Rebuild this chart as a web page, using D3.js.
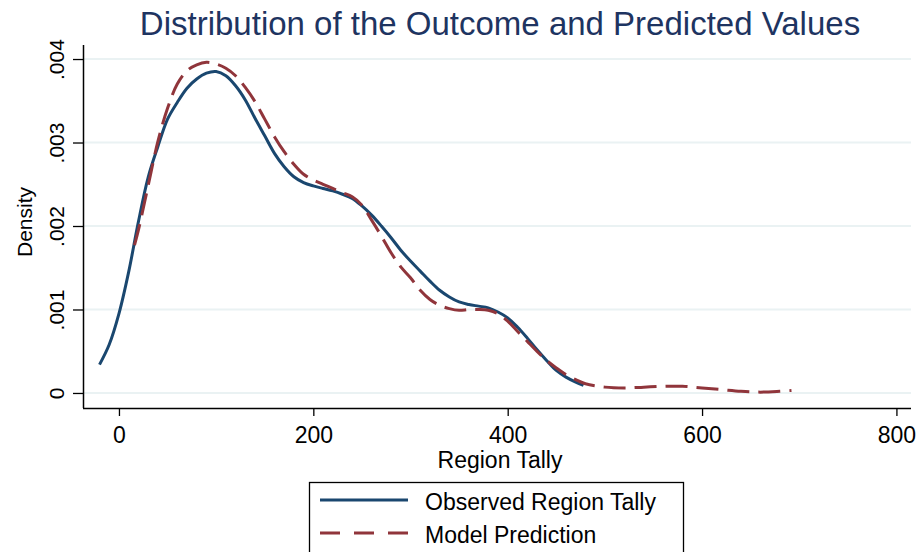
<!DOCTYPE html>
<html>
<head>
<meta charset="utf-8">
<script src="https://cdn.jsdelivr.net/npm/d3@7"></script>
<style>
  body { margin: 0; background: #fff; }
  text { font-family: "Liberation Sans", Arial, sans-serif; }
</style>
</head>
<body>
<div id="chart"></div>
<script>
// observed kernel density (Region Tally)
var obsX = [-20, -10, 0, 10, 20, 30, 40, 50, 60, 70, 80, 90, 100, 110, 120, 130, 140, 150, 160, 170,
  180, 190, 200, 210, 220, 230, 240, 250, 260, 270, 280, 290, 300, 310, 320, 330, 340, 350, 360, 370,
  380, 390, 400, 410, 420, 430, 440, 450, 460, 470, 478];
var obsY = [0.00034, 0.00058, 0.00095, 0.00145, 0.00205, 0.00258, 0.00295, 0.00328, 0.00348, 0.00365,
  0.00376, 0.00383, 0.00385, 0.0038, 0.00368, 0.00351, 0.00329, 0.00308, 0.00287, 0.00271,
  0.00259, 0.00252, 0.00248, 0.00245, 0.00242, 0.00238, 0.00233, 0.00224, 0.00213, 0.002,
  0.00186, 0.00171, 0.00158, 0.00146, 0.00134, 0.00123, 0.00115, 0.00109, 0.00106, 0.00104,
  0.00102, 0.00097, 0.0009, 0.00079, 0.00066, 0.00052, 0.00039, 0.00027, 0.00019, 0.00013, 0.00009];

// model prediction density
var predX = [16, 20, 30, 40, 50, 60, 70, 80, 90, 100, 110, 120, 130, 140, 150, 160, 170, 180, 190, 200,
  210, 220, 230, 240, 250, 260, 270, 280, 290, 300, 310, 320, 330, 340, 350, 360, 370, 380, 390, 400,
  410, 420, 430, 440, 450, 460, 470, 480, 500, 520, 540, 560, 580, 600, 620, 640, 660, 680, 692];
var predY = [0.00177, 0.00195, 0.00248, 0.00301, 0.00341, 0.0037, 0.00386, 0.00393, 0.00396, 0.00394,
  0.00389, 0.0038, 0.00366, 0.00349, 0.00328, 0.00307, 0.00289, 0.00274, 0.00262, 0.00255,
  0.0025, 0.00245, 0.0024, 0.00235, 0.00225, 0.00207, 0.00188, 0.00168, 0.00151, 0.00138,
  0.00123, 0.00112, 0.00105, 0.00101, 0.00099, 0.001, 0.001, 0.00099, 0.00095, 0.00086,
  0.00074, 0.00062, 0.0005, 0.00039, 0.0003, 0.00022, 0.00016, 0.00011, 0.00007, 0.00006,
  0.00007, 0.00008, 0.00008, 0.00006, 0.00004, 0.00002, 0.00001, 0.00002, 0.00003];

var xTicks = [0, 200, 400, 600, 800];
var yTicks = [0, 0.001, 0.002, 0.003, 0.004];
var yTickLabels = ["0", ".001", ".002", ".003", ".004"];
var seriesNames = ["Observed Region Tally", "Model Prediction"];

var W = 918, H = 552;
var plotL = 83, plotR = 911, plotT = 45, plotB = 408;

var svg = d3.select("#chart").append("svg")
  .attr("width", W)
  .attr("height", H);

var x = d3.scaleLinear().domain([-37, 815]).range([plotL, plotR]);
var y = d3.scaleLinear().domain([-0.00018, 0.004168]).range([plotB, plotT]);

// gridlines
svg.append("g").selectAll("line")
  .data(yTicks)
  .enter().append("line")
  .attr("x1", plotL).attr("x2", plotR)
  .attr("y1", function(d) { return y(d); })
  .attr("y2", function(d) { return y(d); })
  .style("stroke", "#eaf2f3")
  .style("stroke-width", 2);

// y axis
var yAxis = svg.append("g")
  .attr("transform", "translate(" + plotL + ",0)")
  .call(d3.axisLeft(y).tickValues(yTicks).tickSize(10).tickSizeOuter(0)
    .tickFormat(function(d, i) { return yTickLabels[i]; }));
yAxis.select(".domain").attr("d", "M0.5," + plotT + "V" + plotB).style("stroke", "#000").style("stroke-width", 1.5);
yAxis.selectAll(".tick line").style("stroke-width", 1.3);
yAxis.selectAll(".tick text")
  .attr("x", 0).attr("dy", null)
  .attr("transform", "translate(-19,0) rotate(-90)")
  .attr("text-anchor", "middle")
  .style("font-size", "21px")
  .style("fill", "#000");

// x axis
var xAxis = svg.append("g")
  .attr("transform", "translate(0," + plotB + ")")
  .call(d3.axisBottom(x).tickValues(xTicks).tickSize(8).tickSizeOuter(0).tickFormat(d3.format("d")));
xAxis.select(".domain").attr("d", "M" + plotL + ",0.5H" + plotR).style("stroke", "#000").style("stroke-width", 1.5);
xAxis.selectAll(".tick line").style("stroke-width", 1.3);
xAxis.selectAll(".tick text")
  .attr("y", 35).attr("dy", null)
  .style("font-size", "23px")
  .style("fill", "#000");

// curves
var line = d3.line()
  .x(function(d) { return x(d[0]); })
  .y(function(d) { return y(d[1]); })
  .curve(d3.curveCatmullRom);

svg.append("path")
  .datum(obsX.map(function(v, i) { return [v, obsY[i]]; }))
  .attr("d", line)
  .style("fill", "none")
  .style("stroke", "#1a476f")
  .style("stroke-width", 3);

svg.append("path")
  .datum(predX.map(function(v, i) { return [v, predY[i]]; }))
  .attr("d", line)
  .style("fill", "none")
  .style("stroke", "#90353b")
  .style("stroke-width", 3)
  .style("stroke-dasharray", "22,9");

// titles
svg.append("text")
  .text("Distribution of the Outcome and Predicted Values")
  .attr("x", 500).attr("y", 35)
  .attr("text-anchor", "middle")
  .style("font-size", "33px")
  .style("fill", "#1e3461");

svg.append("text")
  .text("Region Tally")
  .attr("x", 500).attr("y", 468)
  .attr("text-anchor", "middle")
  .style("font-size", "23px");

svg.append("text")
  .text("Density")
  .attr("transform", "translate(32,222) rotate(-90)")
  .attr("text-anchor", "middle")
  .style("font-size", "21px");

// legend
var lg = svg.append("g");
lg.append("rect")
  .attr("x", 309.5).attr("y", 482.5)
  .attr("width", 374).attr("height", 90)
  .style("fill", "#fff")
  .style("stroke", "#000")
  .style("stroke-width", 1.3);

var items = lg.selectAll(".item")
  .data(seriesNames)
  .enter().append("g")
  .attr("class", "item")
  .attr("transform", function(d, i) { return "translate(0," + (500 + i * 33) + ")"; });

items.append("line")
  .attr("x1", 320).attr("x2", 408)
  .style("stroke", function(d, i) { return i == 0 ? "#1a476f" : "#90353b"; })
  .style("stroke-width", 3)
  .style("stroke-dasharray", function(d, i) { return i == 0 ? null : "20,14"; });

items.append("text")
  .text(function(d) { return d; })
  .attr("x", 425).attr("y", 10)
  .style("font-size", "23px");
</script>
</body>
</html>
